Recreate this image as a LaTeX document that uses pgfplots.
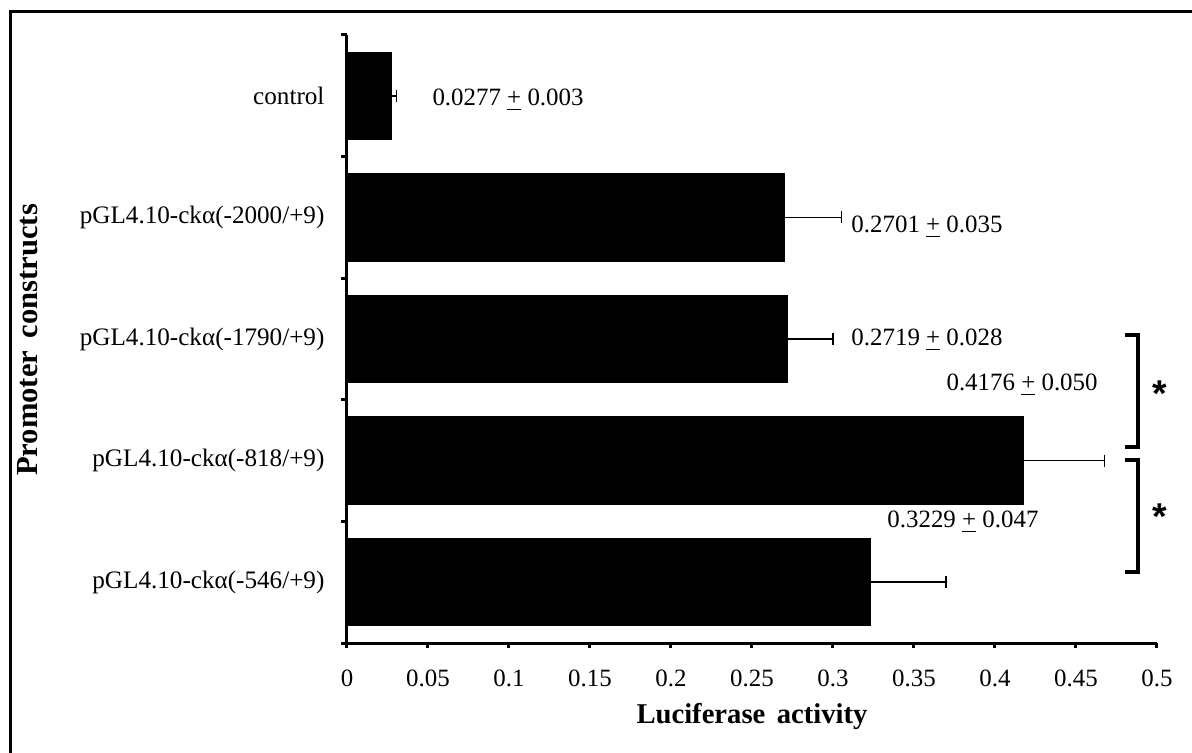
\documentclass[border=0pt]{standalone}
\usepackage{pgfplots}
\pgfplotsset{compat=1.18}
\usepackage{fontspec}
\setmainfont{Liberation Serif}
\newfontfamily\starfont{Liberation Sans}

% value, error per construct (top = control)
\pgfplotstableread{
y  x       err
4  0.0277  0.003
3  0.2701  0.035
2  0.2719  0.028
1  0.4176  0.050
0  0.3229  0.047
}\lucdata

\begin{document}
\begin{tikzpicture}
\begin{axis}[
    name=ax,
    at={(0,0)}, anchor=south west,
    scale only axis,
    width=324bp, height=243.2bp,
    xbar, bar width=0.72, bar shift=0pt,
    xmin=0, xmax=0.5, ymin=-0.5, ymax=4.5,
    axis x line*=bottom, axis y line*=left,
    axis line style={line width=1.2bp},
    every tick/.style={line width=1.2bp, black},
    tick align=outside,
    major tick length=2.2bp,
    xtick={0,0.05,0.1,0.15,0.2,0.25,0.3,0.35,0.4,0.45,0.5},
    xticklabels={0,0.05,0.1,0.15,0.2,0.25,0.3,0.35,0.4,0.45,0.5},
    /pgf/number format/assume math mode=true,
    x tick label style={font=\fontsize{10}{12}\selectfont, yshift=-5bp},
    ytick={-0.5,0.5,1.5,2.5,3.5,4.5},
    yticklabels={},
    extra y ticks={0,1,2,3,4},
    extra y tick labels={pGL4.10-ckα(-546/+9),pGL4.10-ckα(-818/+9),pGL4.10-ckα(-1790/+9),pGL4.10-ckα(-2000/+9),control},
    extra y tick style={major tick length=0pt, yticklabel style={font=\fontsize{10.1}{12}\selectfont, xshift=-5.5bp}},
    clip=false,
]
\addplot[fill=black, draw=black,
    error bars/.cd, x dir=plus, x explicit,
    error bar style={line width=0.6bp, black},
    error mark options={rotate=90, line width=0.6bp, mark size=2.4bp, black}]
  table[x=x, y=y, x error=err] {\lucdata};

\begin{scope}[font=\fontsize{10}{12}\selectfont]
\node[anchor=west, inner sep=0] at (axis cs:0.0525,3.965) {0.0277 \underline{+} 0.003};
\node[anchor=west, inner sep=0] at (axis cs:0.3111,2.92) {0.2701 \underline{+} 0.035};
\node[anchor=west, inner sep=0] at (axis cs:0.3111,1.992) {0.2719 \underline{+} 0.028};
\node[anchor=west, inner sep=0] at (axis cs:0.3698,1.622) {0.4176 \underline{+} 0.050};
\node[anchor=west, inner sep=0] at (axis cs:0.3333,0.495) {0.3229 \underline{+} 0.047};
\end{scope}

\draw[line width=1.6bp] (axis cs:0.480,2.033) -- (axis cs:0.4883,2.033) -- (axis cs:0.4883,1.112) -- (axis cs:0.480,1.112);
\draw[line width=1.6bp] (axis cs:0.480,1.005) -- (axis cs:0.4883,1.005) -- (axis cs:0.4883,0.084) -- (axis cs:0.480,0.084);
\node[inner sep=0, font=\starfont\bfseries\fontsize{15}{15}\selectfont] at (axis cs:0.5019,1.55) {*};
\node[inner sep=0, font=\starfont\bfseries\fontsize{15}{15}\selectfont] at (axis cs:0.5019,0.54) {*};
\end{axis}

\node[font=\bfseries\fontsize{11.5}{13}\selectfont] at (162bp,-29.6bp) {Luciferase\hspace{0.4em}activity};
\node[rotate=90, font=\bfseries\fontsize{12.3}{14}\selectfont] at (-127.6bp,121.2bp) {Promoter\hspace{0.4em}constructs};

\draw[line width=1.2bp] (-134.4bp,-44bp) -- (-134.4bp,252.4bp) -- (338bp,252.4bp);

\pgfresetboundingbox
\useasboundingbox (-138.8bp,-44bp) rectangle (338bp,257.2bp);
\end{tikzpicture}
\end{document}
